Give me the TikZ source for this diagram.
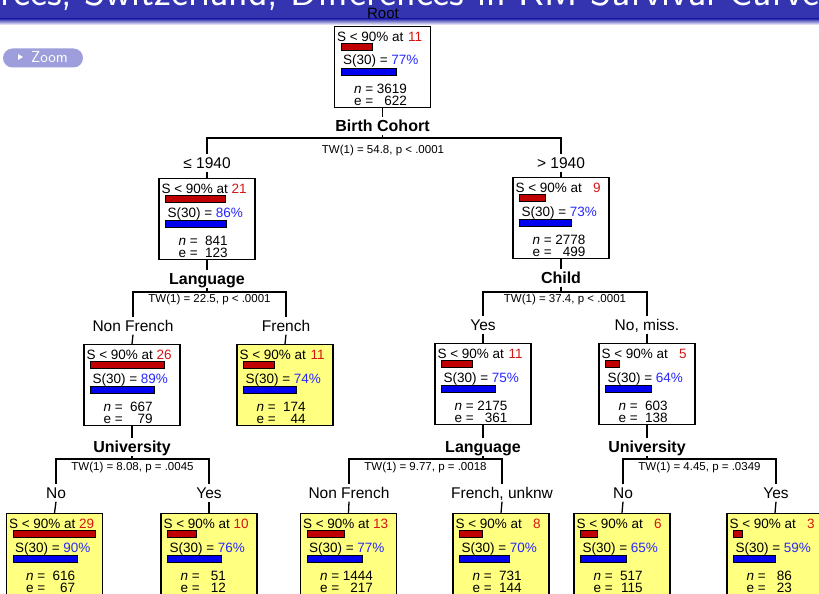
\documentclass[tikz,border=0pt]{standalone}
\usepackage{fontspec}
\setmainfont{Liberation Sans}
\usetikzlibrary{calc}

\definecolor{tred}{RGB}{215,20,20}
\definecolor{barred}{RGB}{192,0,0}
\definecolor{tblue}{RGB}{40,40,255}
\definecolor{barblue}{RGB}{0,0,240}
\definecolor{leafyellow}{RGB}{255,255,128}
\definecolor{titleblue}{RGB}{52,52,176}
\definecolor{zoomblue}{RGB}{158,158,220}

\tikzset{
  survbox/.style={draw, line width=1.3pt, minimum width=96pt, minimum height=81pt, inner sep=0pt, anchor=north},
  boxtxt/.style={inner sep=0pt, anchor=base west, font=\fontsize{13.5}{15}\selectfont},
  barline/.style={draw=black, line width=0.7pt},
  splitlabel/.style={font=\bfseries\fontsize{16}{18}\selectfont, text height=11.5pt, text depth=0pt, inner xsep=2pt, inner ysep=3pt},
  branchlabel/.style={font=\fontsize{15.5}{18}\selectfont, text height=11pt, text depth=0pt, inner xsep=2pt, inner ysep=3pt},
  testlabel/.style={font=\fontsize{11.5}{13}\selectfont, inner sep=0pt},
  conn/.style={line width=1.3pt},
}

% survival node: name, x, top, fill, time to S<90%, S(30), n, e, width of number column (em)
\newcommand\survnode[9]{%
  \node[survbox, fill=#4] (#1) at (#2,#3) {};
  \node[boxtxt] (#1-t) at ($(#1.north west)+(3,15.5)$) {S < 90\% at \textcolor{tred}{\makebox[1.112em][r]{#5}}};
  \filldraw[barline, fill=barred] ($(#1.north west)+(7,17.5)$) rectangle ++({2.85*#5},7);
  \node[boxtxt] (#1-s) at ($(#1.north west)+(9,39)$) {S(30) = \textcolor{tblue}{#6\%}};
  \filldraw[barline, fill=barblue] ($(#1.north west)+(7,42.5)$) rectangle ++({0.715*#6},7);
  \node[boxtxt] (#1-n) at ($(#1.north west)+(20,67)$) {\textit{n} = \makebox[#9em][r]{#7}};
  \node[boxtxt] (#1-e) at ($(#1.north west)+(20,79)$) {e = \makebox[#9em][r]{#8}};
}

\begin{document}
\begin{tikzpicture}[x=1pt, y=-1pt]
\path[use as bounding box] (0,0) rectangle (819,594);
\clip (0,0) rectangle (819,594);
\fill[white] (0,0) rectangle (819,594);

% frame title bar
\fill[titleblue] (0,0) rectangle (819,19);
\shade[top color=titleblue, bottom color=white] (0,19) rectangle (819,25);
\node[anchor=base west, text=white, font=\sffamily\fontsize{40.5}{44}\selectfont, inner sep=0pt] (title) at (0,6) {\llap{Divo}rces, Switzerland, Differences in KM Survival Curves};

% zoom button
\node[fill=zoomblue, rounded corners=9.5pt, minimum width=80pt, minimum height=19pt, inner sep=0pt] (zoombtn) at (43,58) {};
\fill[white] (18,54) -- (23,57) -- (18,60) -- cycle;
\node[text=white, font=\sffamily\fontsize{16}{18}\selectfont, anchor=base west, inner sep=0pt] (zoomtxt) at (31,63) {Zoom};

% level 0
\node[branchlabel, font=\fontsize{15}{18}\selectfont] (rootlab) at (383,13) {Root};
\survnode{root}{382.5}{26}{white}{11}{77}{3619}{622}{2.224}
\node[splitlabel] (s0) at (382.5,126) {Birth Cohort};
\coordinate (h0L) at (207,138);
\coordinate (h0R) at (561,138);
\node[testlabel] (t0) at (383,151) {TW(1) = 54.8, p < .0001};
\node[branchlabel] (b1) at (207,163) {≤ 1940};
\node[branchlabel] (b2) at (561,163) {> 1940};
\draw[conn] (root.south) -- (s0.north);
\draw[conn] (s0.south) -- (s0.south |- h0L);
\draw[conn] (b1.north) -- (h0L) -- (h0R) -- (b2.north);

% level 1
\survnode{n1}{207}{178}{white}{21}{86}{841}{123}{1.946}
\survnode{n2}{561}{177}{white}{9}{73}{2778}{499}{2.224}
\draw[conn] (b1.south) -- (n1.north);
\draw[conn] (b2.south) -- (n2.north);

\node[splitlabel] (s1) at (207,279) {Language};
\node[splitlabel] (s2) at (561,278) {Child};
\coordinate (h1L) at (133,292);
\coordinate (h1R) at (286,292);
\coordinate (h2L) at (483,292);
\coordinate (h2R) at (647,292);
\node[testlabel] (t1) at (209.5,300) {TW(1) = 22.5, p < .0001};
\node[testlabel] (t2) at (565,300) {TW(1) = 37.4, p < .0001};
\node[branchlabel] (b11) at (133,326) {Non French};
\node[branchlabel] (b12) at (286,326) {French};
\node[branchlabel] (b21) at (483,325) {Yes};
\node[branchlabel] (b22) at (647,325) {No, miss.};
\draw[conn] (n1.south) -- (s1.north);
\draw[conn] (s1.south) -- (s1.south |- h1L);
\draw[conn] (b11.north) -- (h1L) -- (h1R) -- (b12.north);
\draw[conn] (n2.south) -- (s2.north);
\draw[conn] (s2.south) -- (s2.south |- h2L);
\draw[conn] (b21.north) -- (h2L) -- (h2R) -- (b22.north);

% level 2
\survnode{n11}{132}{344}{white}{26}{89}{667}{79}{1.946}
\survnode{n12}{285}{344}{leafyellow}{11}{74}{174}{44}{1.946}
\survnode{n21}{483}{343}{white}{11}{75}{2175}{361}{2.224}
\survnode{n22}{647}{343}{white}{5}{64}{603}{138}{1.946}
\draw[conn] (b11.south) -- (n11.north);
\draw[conn] (b12.south) -- (n12.north);
\draw[conn] (b21.south) -- (n21.north);
\draw[conn] (b22.south) -- (n22.north);

\node[splitlabel] (s11) at (132,447) {University};
\node[splitlabel] (s21) at (483,447) {Language};
\node[splitlabel] (s22) at (647,447) {University};
\coordinate (h11L) at (56,459);
\coordinate (h11R) at (209,459);
\coordinate (h21L) at (349,459);
\coordinate (h21R) at (502,459);
\coordinate (h22L) at (623,459);
\coordinate (h22R) at (776,459);
\node[testlabel] (t11) at (132.5,468) {TW(1) = 8.08, p = .0045};
\node[testlabel] (t21) at (425.5,468) {TW(1) = 9.77, p = .0018};
\node[testlabel] (t22) at (699.5,468) {TW(1) = 4.45, p = .0349};
\node[branchlabel] (b111) at (56,493) {No};
\node[branchlabel] (b112) at (209,493) {Yes};
\node[branchlabel] (b211) at (349,493) {Non French};
\node[branchlabel] (b212) at (502,493) {French, unknw};
\node[branchlabel] (b221) at (623,493) {No};
\node[branchlabel] (b222) at (776,493) {Yes};
\draw[conn] (n11.south) -- (s11.north);
\draw[conn] (s11.south) -- (s11.south |- h11L);
\draw[conn] (b111.north) -- (h11L) -- (h11R) -- (b112.north);
\draw[conn] (n21.south) -- (s21.north);
\draw[conn] (s21.south) -- (s21.south |- h21L);
\draw[conn] (b211.north) -- (h21L) -- (h21R) -- (b212.north);
\draw[conn] (n22.south) -- (s22.north);
\draw[conn] (s22.south) -- (s22.south |- h22L);
\draw[conn] (b221.north) -- (h22L) -- (h22R) -- (b222.north);

% level 3 (terminal)
\survnode{n111}{54.5}{513}{leafyellow}{29}{90}{616}{67}{1.946}
\survnode{n112}{209}{513}{leafyellow}{10}{76}{51}{12}{1.668}
\survnode{n211}{348.5}{513}{leafyellow}{13}{77}{1444}{217}{2.224}
\survnode{n212}{501}{513}{leafyellow}{8}{70}{731}{144}{1.946}
\survnode{n221}{622}{513}{leafyellow}{6}{65}{517}{115}{1.946}
\survnode{n222}{775}{513}{leafyellow}{3}{59}{86}{23}{1.668}
\draw[conn] (b111.south) -- (n111.north);
\draw[conn] (b112.south) -- (n112.north);
\draw[conn] (b211.south) -- (n211.north);
\draw[conn] (b212.south) -- (n212.north);
\draw[conn] (b221.south) -- (n221.north);
\draw[conn] (b222.south) -- (n222.north);
\end{tikzpicture}
\end{document}
